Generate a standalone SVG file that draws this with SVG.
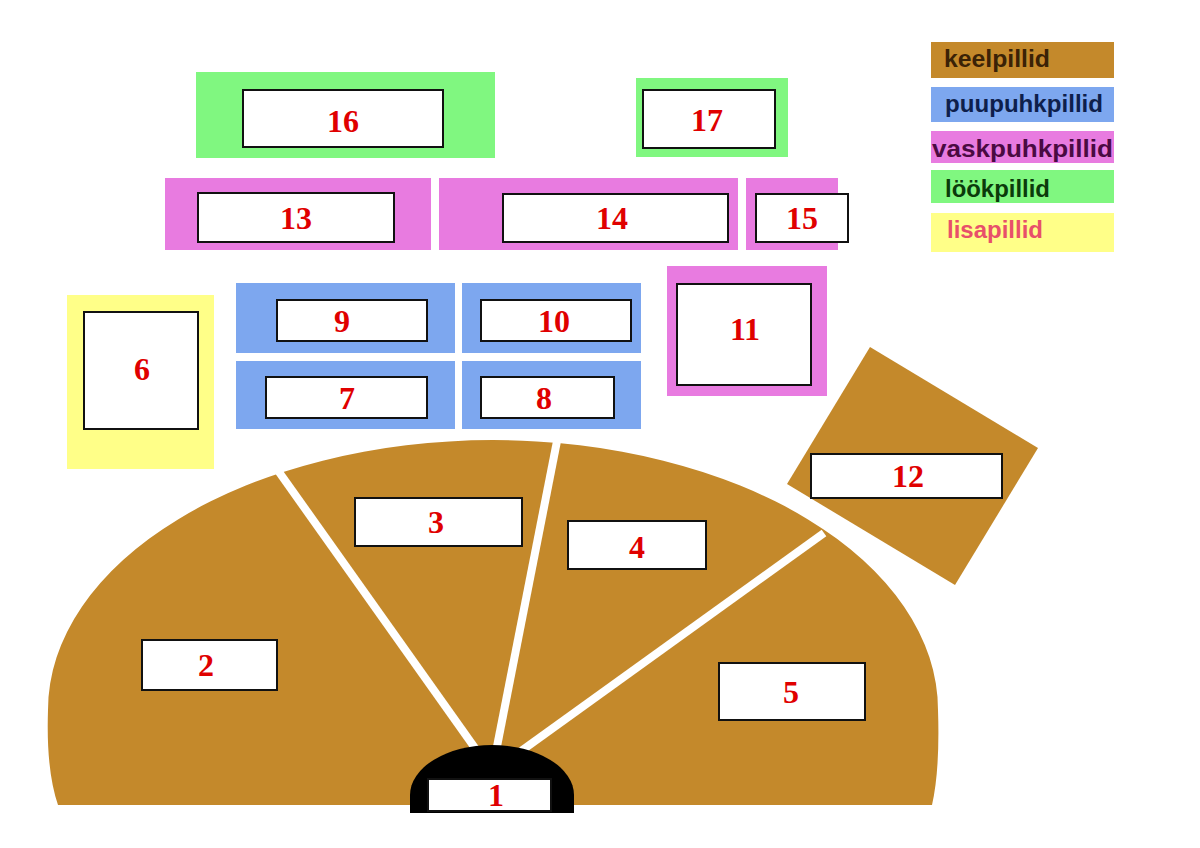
<svg xmlns="http://www.w3.org/2000/svg" width="1200" height="848" viewBox="0 0 1200 848">
<style>
.brown{fill:#C4892B}
.blue{fill:#7DA7EF}
.pink{fill:#E87BE0}
.green{fill:#80F780}
.yellow{fill:#FFFF88}
.box{fill:#ffffff;stroke:#111111;stroke-width:2}
.lbl{font-family:"Liberation Serif","Times New Roman",serif;font-weight:bold;font-size:32px;fill:#E00000;text-anchor:middle}
.leg{font-family:"Liberation Sans",Arial,sans-serif;font-size:23px;font-weight:bold}
.gap{stroke:#ffffff;stroke-width:8;stroke-linecap:butt;fill:none}
</style>
<rect x="0" y="0" width="1200" height="848" fill="#ffffff"/>

<g id="fan">
<path class="brown" d="M58 805 Q46 770 48 710 A445 270 0 0 1 938 710 Q940 770 932 805 Z"/>
<line class="gap" x1="492" y1="772" x2="279" y2="472"/>
<line class="gap" x1="492" y1="772" x2="558" y2="436"/>
<line class="gap" x1="492" y1="772" x2="824" y2="533"/>
</g>

<g id="node-2"><rect class="box" x="142" y="640" width="135" height="50"/><text class="lbl" x="206" y="676">2</text></g>
<g id="node-3"><rect class="box" x="355" y="498" width="167" height="48"/><text class="lbl" x="436" y="533">3</text></g>
<g id="node-4"><rect class="box" x="568" y="521" width="138" height="48"/><text class="lbl" x="637" y="558">4</text></g>
<g id="node-5"><rect class="box" x="719" y="663" width="146" height="57"/><text class="lbl" x="791" y="703">5</text></g>

<g id="node-1">
<path fill="#000000" d="M410 795 A82 50 0 0 1 574 795 L574 813 L410 813 Z"/>
<rect class="box" x="428" y="779" width="123" height="32" stroke="none"/>
<text class="lbl" x="496" y="806">1</text>
</g>

<g id="node-12">
<polygon class="brown" points="870,347 1038,448 955,585 787,484"/>
<rect class="box" x="811" y="454" width="191" height="44"/>
<text class="lbl" x="908" y="487">12</text>
</g>

<g id="node-16"><rect class="green" x="196" y="72" width="299" height="86"/><rect class="box" x="243" y="90" width="200" height="57"/><text class="lbl" x="343" y="132">16</text></g>
<g id="node-17"><rect class="green" x="636" y="78" width="152" height="79"/><rect class="box" x="643" y="90" width="132" height="58"/><text class="lbl" x="707" y="131">17</text></g>

<g id="node-13"><rect class="pink" x="165" y="178" width="266" height="72"/><rect class="box" x="198" y="193" width="196" height="49"/><text class="lbl" x="296" y="229">13</text></g>
<g id="node-14"><rect class="pink" x="439" y="178" width="299" height="72"/><rect class="box" x="503" y="194" width="225" height="48"/><text class="lbl" x="612" y="229">14</text></g>
<g id="node-15"><rect class="pink" x="746" y="178" width="92" height="72"/><rect class="box" x="756" y="194" width="92" height="48"/><text class="lbl" x="802" y="229">15</text></g>

<g id="node-9"><rect class="blue" x="236" y="283" width="219" height="70"/><rect class="box" x="277" y="300" width="150" height="41"/><text class="lbl" x="342" y="332">9</text></g>
<g id="node-10"><rect class="blue" x="462" y="283" width="179" height="70"/><rect class="box" x="481" y="300" width="150" height="41"/><text class="lbl" x="554" y="332">10</text></g>
<g id="node-7"><rect class="blue" x="236" y="361" width="219" height="68"/><rect class="box" x="266" y="377" width="161" height="41"/><text class="lbl" x="347" y="409">7</text></g>
<g id="node-8"><rect class="blue" x="462" y="361" width="179" height="68"/><rect class="box" x="481" y="377" width="133" height="41"/><text class="lbl" x="544" y="409">8</text></g>

<g id="node-11"><rect class="pink" x="667" y="266" width="160" height="130"/><rect class="box" x="677" y="284" width="134" height="101"/><text class="lbl" x="745" y="340">11</text></g>

<g id="node-6"><rect class="yellow" x="67" y="295" width="147" height="174"/><rect class="box" x="84" y="312" width="114" height="117"/><text class="lbl" x="142" y="380">6</text></g>

<g id="legend">
<g id="legend-keelpillid"><rect class="brown" x="931" y="42" width="183" height="36"/><text class="leg" x="944" y="67" fill="#3A2206" textLength="106" lengthAdjust="spacingAndGlyphs">keelpillid</text></g>
<g id="legend-puupuhkpillid"><rect class="blue" x="931" y="87" width="183" height="35"/><text class="leg" x="945" y="112" fill="#0E1F4C" textLength="158" lengthAdjust="spacingAndGlyphs">puupuhkpillid</text></g>
<g id="legend-vaskpuhkpillid"><rect class="pink" x="931" y="131" width="183" height="32"/><text class="leg" x="932" y="157" fill="#4A0A42" textLength="181" lengthAdjust="spacingAndGlyphs">vaskpuhkpillid</text></g>
<g id="legend-löökpillid"><rect class="green" x="931" y="170" width="183" height="33"/><text class="leg" x="945" y="197" fill="#0B3B0B" textLength="105" lengthAdjust="spacingAndGlyphs">löökpillid</text></g>
<g id="legend-lisapillid"><rect class="yellow" x="931" y="213" width="183" height="39"/><text class="leg" x="947" y="238" fill="#E8506A" textLength="96" lengthAdjust="spacingAndGlyphs">lisapillid</text></g>
</g>
</svg>
